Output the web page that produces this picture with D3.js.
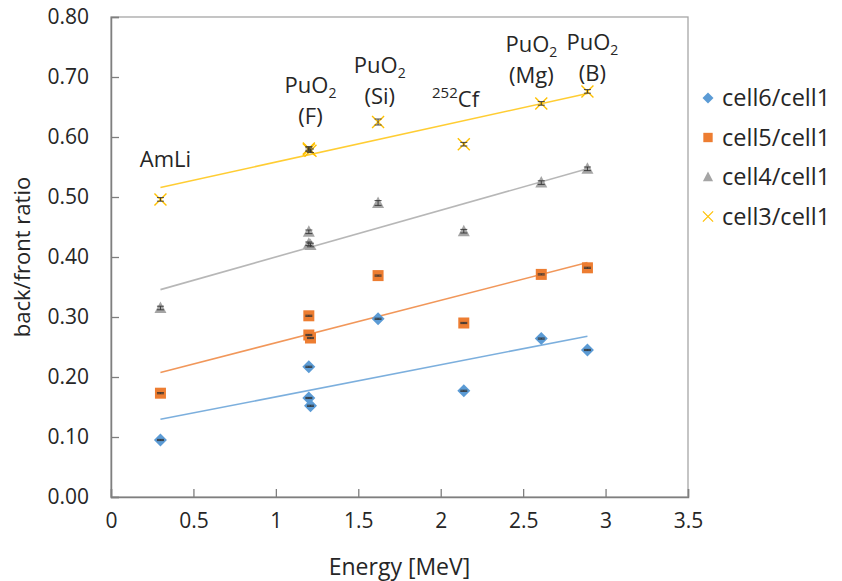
<!DOCTYPE html>
<html>
<head>
<meta charset="utf-8">
<script src="https://cdn.jsdelivr.net/npm/d3@7"></script>
<style>
  html, body { margin: 0; padding: 0; background: #fff; }
  svg { display: block; font-family: "Open Sans", sans-serif; }
</style>
</head>
<body>
<div id="chart"></div>
<script>
// energies of the sources (MeV)
const energy = [0.3, 1.2, 1.2, 1.21, 1.62, 2.14, 2.61, 2.89];

// ratios per detector cell
const cell6 = [0.095, 0.217, 0.165, 0.152, 0.297, 0.177, 0.264, 0.245];
const cell5 = [0.173, 0.302, 0.270, 0.265, 0.369, 0.290, 0.371, 0.382];
const cell4 = [0.315, 0.442, 0.422, 0.420, 0.490, 0.443, 0.524, 0.547];
const cell3 = [0.496, 0.581, 0.579, 0.577, 0.625, 0.588, 0.656, 0.676];

// error bar half widths per series
const err6 = [0.001, 0.001, 0.001, 0.001, 0.001, 0.001, 0.001, 0.001];
const err5 = [0.001, 0.001, 0.001, 0.001, 0.001, 0.001, 0.001, 0.001];
const err4 = [0.003, 0.003, 0.003, 0.003, 0.004, 0.003, 0.003, 0.003];
const err3 = [0.003, 0.003, 0.003, 0.003, 0.005, 0.003, 0.003, 0.003];

const seriesNames = ['cell6/cell1', 'cell5/cell1', 'cell4/cell1', 'cell3/cell1'];
const colors = ['#5b9bd5', '#ed7d31', '#a5a5a5', '#ffc000'];
const shapes = ['diamond', 'square', 'triangle', 'cross'];

const xTicks = [0, 0.5, 1, 1.5, 2, 2.5, 3, 3.5];
const yTicks = [0, 0.1, 0.2, 0.3, 0.4, 0.5, 0.6, 0.7, 0.8];

// source labels
const sources = [
  { x: 0.33, lines: ['AmLi'] },
  { x: 1.21, lines: ['PuO2', '(F)'] },
  { x: 1.63, lines: ['PuO2', '(Si)'] },
  { x: 2.09, lines: ['252Cf'] },
  { x: 2.55, lines: ['PuO2', '(Mg)'] },
  { x: 2.92, lines: ['PuO2', '(B)'] }
];
const labelTop = [167, 93, 73, 107, 52, 50];

const W = 842, H = 581;
const margin = { left: 111, top: 17, right: 154, bottom: 84 };
const iw = W - margin.left - margin.right;
const ih = H - margin.top - margin.bottom;

const svg = d3.select('#chart').append('svg')
  .attr('width', W).attr('height', H);

const x = d3.scaleLinear().domain([0, 3.5]).range([0, iw]);
const y = d3.scaleLinear().domain([0, 0.8]).range([ih, 0]);

const g = svg.append('g').attr('transform', `translate(${margin.left},${margin.top})`);

// frame
g.append('rect').attr('width', iw).attr('height', ih)
  .attr('fill', 'none').attr('stroke', '#a6a6a6').attr('stroke-width', 1.3);

// axes with inward ticks
const xAxis = g.append('g').attr('transform', `translate(0,${ih})`)
  .call(d3.axisBottom(x).tickValues(xTicks).tickSize(-8).tickPadding(16)
    .tickFormat(d => d3.format('')(d)));
const yAxis = g.append('g')
  .call(d3.axisLeft(y).tickValues(yTicks).tickSize(-8).tickPadding(22)
    .tickFormat(d3.format('.2f')));
[xAxis, yAxis].forEach(a => {
  a.select('.domain').attr('stroke', '#7f7f7f').attr('stroke-width', 1.5);
  a.selectAll('.tick line').attr('stroke', '#7f7f7f').attr('stroke-width', 1.3);
  a.selectAll('.tick text').attr('fill', '#262626')
    .style('font-size', '21px').style('font-family', '"Open Sans", sans-serif');
});
xAxis.selectAll('.tick text').attr('dy', '0.71em');

// axis titles
svg.append('text')
  .attr('x', margin.left + x(1.75)).attr('y', 575)
  .attr('text-anchor', 'middle').attr('fill', '#262626')
  .style('font-size', '23px').text('Energy [MeV]');
svg.append('text')
  .attr('transform', `translate(30,${margin.top + y(0.4)}) rotate(-90)`)
  .attr('text-anchor', 'middle').attr('fill', '#262626')
  .style('font-size', '22px').text('back/front ratio');

// least-squares trendline
function fit(xs, ys) {
  const mx = d3.mean(xs), my = d3.mean(ys);
  const b = d3.sum(xs, (v, i) => (v - mx) * (ys[i] - my)) / d3.sum(xs, v => (v - mx) ** 2);
  return v => my + b * (v - mx);
}

function marker(sel, shape, color) {
  if (shape === 'diamond') {
    sel.append('path').attr('d', 'M0,-6.5L6.5,0L0,6.5L-6.5,0Z').attr('fill', color);
  } else if (shape === 'square') {
    sel.append('rect').attr('x', -5.5).attr('y', -5.5).attr('width', 11).attr('height', 11).attr('fill', color);
  } else if (shape === 'triangle') {
    sel.append('path').attr('d', 'M0,-6.5L6,5L-6,5Z').attr('fill', color);
  } else {
    sel.append('path').attr('d', 'M-6,-6L6,6M-6,6L6,-6').attr('stroke', color)
      .attr('stroke-width', 1.4).attr('fill', 'none');
  }
}

const allSeries = [cell6, cell5, cell4, cell3];
const allErrs = [err6, err5, err4, err3];

// trendlines
allSeries.forEach((vals, si) => {
  const f = fit(energy, vals);
  const ext = d3.extent(energy);
  g.append('line')
    .attr('x1', x(ext[0])).attr('y1', y(f(ext[0])))
    .attr('x2', x(ext[1])).attr('y2', y(f(ext[1])))
    .attr('stroke', colors[si]).attr('stroke-opacity', 0.8).attr('stroke-width', 1.6);
});

// points and error bars
allSeries.forEach((vals, si) => {
  const pts = g.append('g');
  vals.forEach((v, i) => {
    const p = pts.append('g').attr('transform', `translate(${x(energy[i])},${y(v)})`);
    marker(p, shapes[si], colors[si]);
  });
  vals.forEach((v, i) => {
    const cx = x(energy[i]);
    const e = allErrs[si][i];
    const y1 = y(v + e), y2 = y(v - e);
    pts.append('path')
      .attr('d', `M${cx},${y1}V${y2}M${cx - 3.5},${y1}H${cx + 3.5}M${cx - 3.5},${y2}H${cx + 3.5}`)
      .attr('stroke', '#333').attr('stroke-width', 0.9).attr('fill', 'none');
  });
});

// source labels
sources.forEach((s, i) => {
  s.lines.forEach((line, li) => {
    const t = svg.append('text')
      .attr('x', margin.left + x(s.x)).attr('y', labelTop[i] + li * 31)
      .attr('text-anchor', 'middle').attr('fill', '#262626')
      .style('font-size', '22px');
    if (line === 'PuO2') {
      t.append('tspan').text('PuO');
      t.append('tspan').attr('dy', 5).style('font-size', '14px').text('2');
    } else if (line === '252Cf') {
      t.append('tspan').attr('dy', -9).style('font-size', '15px').text('252');
      t.append('tspan').attr('dy', 9).text('Cf');
    } else {
      t.text(line);
    }
  });
});

// legend
const legend = svg.append('g').attr('transform', 'translate(708,98)');
seriesNames.forEach((name, i) => {
  const row = legend.append('g').attr('transform', `translate(0,${i * 39.5})`);
  const m = row.append('g').attr('transform', 'scale(0.85)');
  marker(m, shapes[i], colors[i]);
  row.append('text').attr('x', 14).attr('dy', '0.35em')
    .attr('fill', '#262626').style('font-size', '23.5px').text(name);
});
</script>
</body>
</html>
